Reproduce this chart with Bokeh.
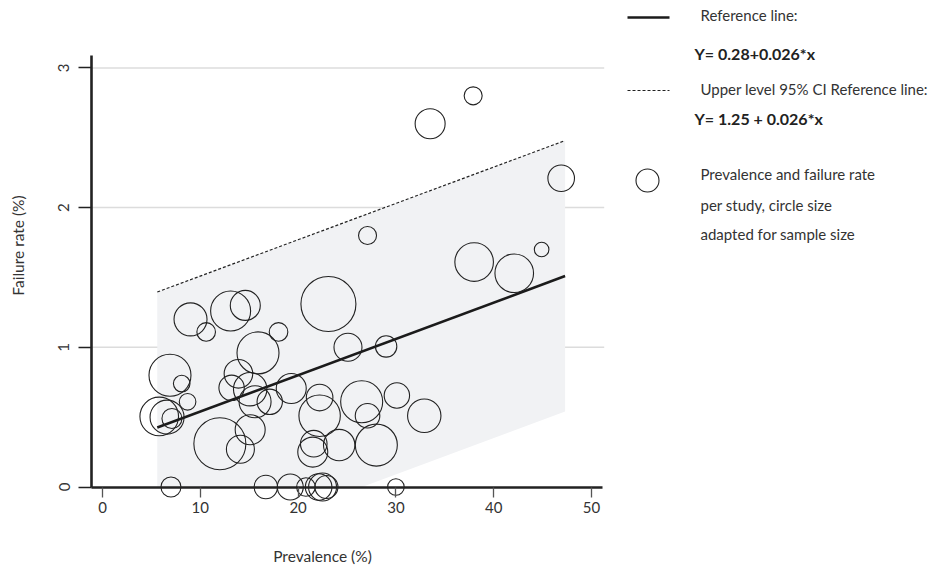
import numpy as np
from bokeh.plotting import figure
from bokeh.models import Range1d, FixedTicker
from bokeh.embed import file_html
from bokeh.resources import INLINE
from bokeh.core.properties import value

# ---- data -------------------------------------------------------------
prevalence = [9.0, 10.6, 13.1, 14.6, 18.0, 15.9, 23.1, 6.9, 8.1, 8.7,
              5.8, 6.6, 7.1, 13.9, 13.2, 15.1, 15.6, 17.1, 19.3, 22.2,
              22.2, 12.0, 15.1, 14.1, 21.6, 21.5, 25.1, 29.0, 26.5, 27.1,
              30.1, 32.9, 24.2, 28.0,
              7.0, 16.7, 19.2, 20.8, 22.1, 22.5, 22.9, 30.0,
              37.9, 33.5, 46.9, 27.1, 44.9, 38.0, 42.1]
failure_rate = [1.20, 1.11, 1.26, 1.30, 1.11, 0.96, 1.31, 0.80, 0.74, 0.61,
                0.505, 0.50, 0.49, 0.81, 0.71, 0.70, 0.61, 0.61, 0.705, 0.64,
                0.51, 0.31, 0.41, 0.27, 0.31, 0.25, 1.00, 1.006, 0.61, 0.51,
                0.655, 0.51, 0.30, 0.30,
                0.0, 0.0, 0.0, 0.0, 0.0, 0.0, 0.0, 0.0,
                2.80, 2.60, 2.21, 1.80, 1.70, 1.61, 1.53]
# relative study weight (circle radius, adapted for sample size)
study_weight = [16.5, 9.3, 20, 15, 9.3, 21, 27.5, 21, 8.3, 8.3,
                19.3, 17, 10, 14.3, 12.7, 16.7, 16, 12.7, 15, 13.3,
                20.7, 26, 15, 14, 13.3, 15, 14, 10.7, 21, 12.3,
                12.7, 16.7, 15.7, 21,
                10, 11.7, 13, 9.3, 13.3, 14, 11.5, 8.3,
                9, 15, 13.3, 9, 7.3, 19.3, 19.3]

x_ticks = [0, 10, 20, 30, 40, 50]
y_ticks = [0, 1, 2, 3]
grid_y = [1, 2, 3]

ref_intercept = 0.28
upper_intercept = 1.25
lower_intercept = -0.69
slope = 0.026
band_x = [5.6, 47.3]

legend_lines = ["Reference line:", "Upper level 95% CI Reference line:"]
legend_eqs = ["Y= 0.28+0.026*x", "Y= 1.25 + 0.026*x"]
legend_circle_text = ["Prevalence and failure rate", "per study, circle size",
                      "adapted for sample size"]

FONT = "Lato"
INK = "#222222"
TXT = "#333333"

# ---- layout geometry (pixels) -----------------------------------------
W, H = 936, 569
PX_PER_X = 9.78
PX_PER_Y = 139.7
X0_PIX = 102.0     # page x of prevalence 0
Y0_PIX = 486.5     # page y of failure rate 0
SPINE_PIX = 91.0   # page x of the y axis line

x_start = -X0_PIX / PX_PER_X
x_end = x_start + W / PX_PER_X
y_end = Y0_PIX / PX_PER_Y
y_start = y_end - H / PX_PER_Y
x_spine = (SPINE_PIX - X0_PIX) / PX_PER_X
plot_x_end = 51.3   # right end of the plotting region (grid lines)
x_axis_end = 51.1
y_axis_top = 3.09

p = figure(frame_width=W, frame_height=H,
           x_range=Range1d(x_start, x_end), y_range=Range1d(y_start, y_end),
           output_backend="svg", toolbar_location=None,
           min_border_left=0, min_border_right=0,
           min_border_top=0, min_border_bottom=0)
p.outline_line_color = None
p.background_fill_color = "white"
# page-pixel ranges for the key panel and the titles
p.extra_x_ranges = {"px": Range1d(0, W)}
p.extra_y_ranges = {"py": Range1d(H, 0)}
kw = dict(x_range_name="px", y_range_name="py")

# grid lines limited to the plotting region
p.xgrid.visible = False
p.ygrid.visible = False
p.segment(x0=[x_spine] * len(grid_y), y0=grid_y,
          x1=[plot_x_end] * len(grid_y), y1=grid_y,
          line_color="#dcdcdc", line_width=1.5, level="underlay")

bx = np.array(band_x)
upper = upper_intercept + slope * bx
lower = lower_intercept + slope * bx
ref = ref_intercept + slope * bx
x_cross = -lower_intercept / slope
band_xs = [bx[0], bx[1], bx[1], x_cross, bx[0]]
band_ys = [upper[0], upper[1], lower[1], 0.0, 0.0]
p.patch(band_xs, band_ys, fill_color="#f1f2f4", line_color=None)

p.line(bx, upper, line_color=INK, line_width=1.2, line_dash="3 2")
p.line(bx, ref, line_color="#1b1b1b", line_width=2.6)

p.scatter(prevalence, failure_rate, size=[2 * w for w in study_weight],
          marker="circle", fill_color=None, line_color=INK, line_width=1.1)

# axes
xa = p.xaxis[0]
xa.fixed_location = 0
xa.bounds = (x_spine, x_axis_end)
xa.ticker = FixedTicker(ticks=x_ticks)
xa.axis_line_width = 2.6
xa.axis_line_color = INK
xa.major_tick_out = 10
xa.major_tick_in = 0
xa.minor_tick_line_color = None
xa.major_tick_line_color = "#555555"
xa.major_tick_line_width = 1.3
xa.major_label_standoff = 5
xa.major_label_text_font = FONT
xa.major_label_text_font_size = "15px"
xa.major_label_text_color = TXT

ya = p.yaxis[0]
ya.fixed_location = x_spine
ya.bounds = (0, y_axis_top)
ya.ticker = FixedTicker(ticks=y_ticks)
ya.axis_line_width = 2.6
ya.axis_line_color = INK
ya.major_tick_out = 13
ya.major_tick_in = 0
ya.minor_tick_line_color = None
ya.major_tick_line_color = INK
ya.major_tick_line_width = 1.3
ya.major_label_standoff = 9
ya.major_label_orientation = "vertical"
ya.major_label_text_font = FONT
ya.major_label_text_font_size = "15px"
ya.major_label_text_color = TXT

# axis titles
p.text(x=[322], y=[555], text=["Prevalence (%)"], text_font=value(FONT),
       text_font_size="15.5px", text_align="center", text_baseline="middle",
       text_color=TXT, **kw)
p.text(x=[17], y=[245], text=["Failure rate (%)"], angle=np.pi / 2,
       text_font=value(FONT), text_font_size="15.5px", text_align="center",
       text_baseline="middle", text_color=TXT, **kw)

# ---- key ----------------------------------------------------------------
p.line([627, 669], [17, 17], line_color="#1b1b1b", line_width=2.6, **kw)
p.line([627, 669], [90, 90], line_color=INK, line_width=1.2, line_dash="3 2", **kw)
p.scatter([647], [180], size=23, marker="circle", fill_color=None,
          line_color=INK, line_width=1.1, **kw)

p.text(x=[700, 700], y=[14, 88], text=legend_lines, text_font=value(FONT),
       text_font_size="15px", text_baseline="middle", text_color=TXT, **kw)
p.text(x=[694, 694], y=[53, 118], text=legend_eqs, text_font=value(FONT),
       text_font_size="16px", text_font_style="bold", text_baseline="middle",
       text_color="#222222", **kw)
p.text(x=[700, 700, 700], y=[173, 204, 233], text=legend_circle_text,
       text_font=value(FONT), text_font_size="15px", text_baseline="middle",
       text_color=TXT, **kw)

open("out.html", "w").write(file_html(p, INLINE))
